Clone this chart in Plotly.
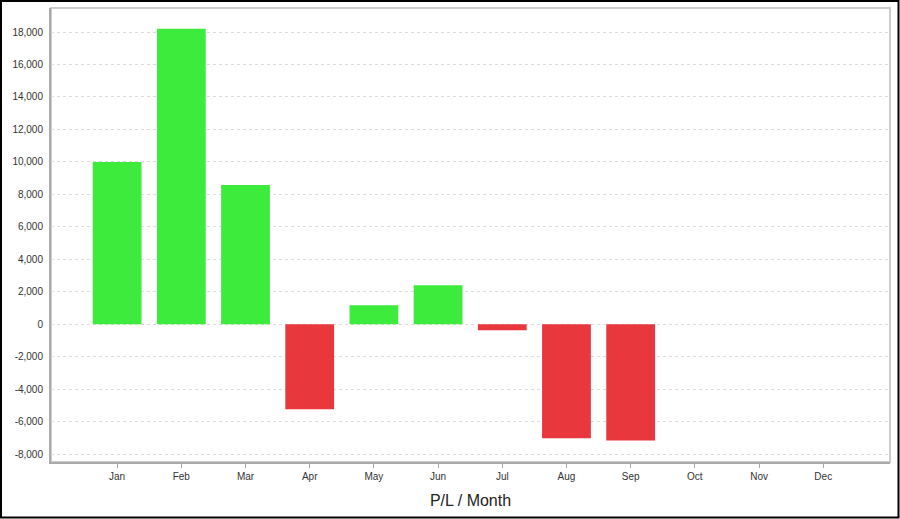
import plotly.graph_objects as go

months = ["Jan", "Feb", "Mar", "Apr", "May", "Jun", "Jul", "Aug", "Sep", "Oct", "Nov", "Dec"]
pl_values = [10000, 18200, 8570, -5240, 1170, 2400, -370, -7030, -7170, None, None, None]
y_ticks = list(range(-8000, 18001, 2000))

GREEN = "#3DEB3D"
RED = "#E8383D"
colors = [GREEN if (v is not None and v >= 0) else RED for v in pl_values]

fig = go.Figure(go.Bar(
    x=months, y=pl_values, marker=dict(color=colors, line=dict(width=0)),
    hoverinfo="x+y",
))

W, H = 900, 519
ml, mr, mt, mb = 51, 10, 8, 57
pw, ph = W - ml - mr, H - mt - mb

def px(x):
    return (x - ml) / pw

def py(y):
    return (H - mb - y) / ph

fig.update_layout(
    width=W, height=H,
    margin=dict(l=ml, r=mr, t=mt, b=mb),
    paper_bgcolor="white", plot_bgcolor="white",
    bargap=0.24,
    showlegend=False,
    font=dict(family="Liberation Sans, Arial, sans-serif", color="#333333", size=10),
    xaxis=dict(
        range=[-1.03, 12.04],
        showgrid=False, zeroline=False,
        showline=True, linecolor="#AAAAAA", linewidth=2,
        ticks="outside", ticklen=4, tickcolor="#AAAAAA", tickwidth=1,
        tickfont=dict(size=10, color="#333333"),
        title=dict(text="P/L / Month", font=dict(size=16, color="#222222"), standoff=14),
    ),
    yaxis=dict(
        range=[-8490, 19483],
        tickvals=y_ticks,
        ticktext=[f"{v:,}" for v in y_ticks],
        showgrid=True, gridcolor="#DDDDDD", gridwidth=1, griddash="3px,3px",
        zeroline=False,
        showline=True, linecolor="#AAAAAA", linewidth=2,
        ticks="", ticklabelstandoff=4,
        tickfont=dict(size=10, color="#333333"),
    ),
    shapes=[
        dict(type="rect", xref="paper", yref="paper", x0=0, x1=1, y0=0, y1=1,
             line=dict(color="#CCCCCC", width=2), layer="below"),
        dict(type="rect", xref="paper", yref="paper",
             x0=px(1), x1=px(898.5), y0=py(517.5), y1=py(1),
             line=dict(color="#000000", width=2)),
    ],
)

fig.write_html(
    "out.html",
    config={"displayModeBar": False},
    post_script="document.body.style.margin='0';document.body.style.overflow='hidden';",
)
